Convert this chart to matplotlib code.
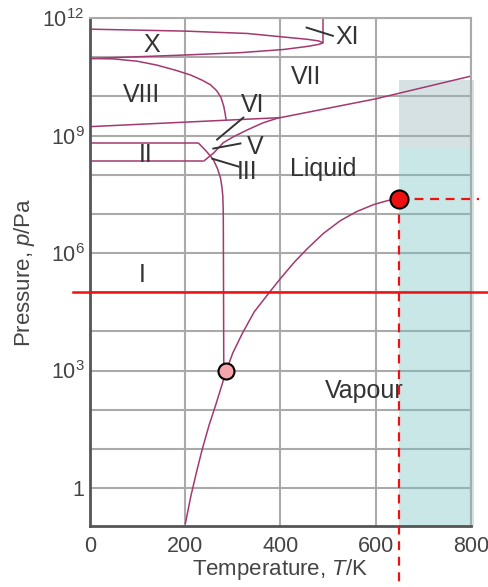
import numpy as np
import matplotlib
matplotlib.use("Agg")
import matplotlib.pyplot as plt

plt.rcParams['font.family'] = ['Liberation Sans', 'DejaVu Sans']
plt.rcParams['mathtext.fontset'] = 'custom'
plt.rcParams['mathtext.rm'] = 'Liberation Sans'
plt.rcParams['mathtext.it'] = 'Liberation Sans:italic'

# phase boundaries of water: (T / K, log10 p / Pa)
vap_T = [200, 212, 224, 236, 250, 263, 275, 286, 300, 320, 345, 377, 400,
         430, 457, 490, 526, 560, 596, 625, 650]
vap_logp = [-0.93, -0.2, 0.42, 1.0, 1.6, 2.08, 2.55, 2.99, 3.45, 3.95, 4.5,
            5.0, 5.35, 5.78, 6.12, 6.5, 6.83, 7.06, 7.24, 7.34, 7.40]

melt_T = [281, 280, 279, 277, 274, 268, 259, 243, 227]
melt_logp = [3.0, 7.0, 7.45, 7.7, 7.92, 8.15, 8.39, 8.62, 8.82]

ice_ii_low_T = [0, 238]
ice_ii_low_logp = [8.34, 8.34]
ice_ii_high_T = [0, 227]
ice_ii_high_logp = [8.82, 8.82]

liq_high_T = [238, 260, 280, 301, 331, 364, 400]
liq_high_logp = [8.34, 8.56, 8.82, 8.97, 9.15, 9.33, 9.47]

vii_T = [0, 400, 600, 800]
vii_logp = [9.23, 9.46, 9.94, 10.52]

viii_T = [0, 50, 100, 141, 180, 211, 235, 253, 266, 275, 281, 284, 286]
viii_logp = [10.97, 10.96, 10.90, 10.80, 10.67, 10.55, 10.42, 10.30, 10.15,
             9.98, 9.75, 9.55, 9.40]

x_upper_T = [0, 200, 330, 406, 457, 480, 490]
x_upper_logp = [11.72, 11.67, 11.61, 11.52, 11.46, 11.42, 11.37]
x_lower_T = [0, 200, 316, 406, 457, 480, 490]
x_lower_logp = [10.97, 11.06, 11.12, 11.20, 11.28, 11.33, 11.37]
xi_T = [490, 490]
xi_logp = [11.37, 12.0]

triple_T, triple_p = 286, 1e3
crit_T, crit_p = 650, 2.4e7
atm_p = 1e5
super_top_p = 5.2e8
grey_top_p = 2.6e10

phase_labels = [
    ("X", 130, 11.31), ("VIII", 109, 10.04), ("VII", 453, 10.5),
    ("VI", 341, 9.79), ("II", 116, 8.51), ("V", 348, 8.72),
    ("III", 330, 8.08), ("Liquid", 490, 8.16), ("I", 109, 5.43),
    ("Vapour", 577, 2.48), ("XI", 541, 11.52),
]
leaders = [
    ((455, 510), (11.76, 11.55)),
    ((267, 322), (8.90, 9.46)),
    ((259, 316), (8.67, 8.80)),
    ((257, 312), (8.41, 8.21)),
]

fig = plt.figure(figsize=(4.89, 5.87), dpi=100)
ax = fig.add_axes([0.184, 0.104, 0.779, 0.865])
ax.set_yscale('log')
ax.set_xlim(0, 800)
ax.set_ylim(10 ** -0.97, 1e12)

decades = 10.0 ** np.arange(0, 13)
ylabels = ['1' if k == 0 else (r'$10^{%d}$' % k if k % 3 == 0 else '') for k in range(13)]
ax.set_yticks(decades)
ax.set_yticklabels(ylabels)
ax.yaxis.set_minor_locator(matplotlib.ticker.NullLocator())
ax.set_xticks([0, 200, 400, 600, 800])
ax.tick_params(length=0, labelsize=15.5, colors='#444444', pad=4)
ax.tick_params(axis='x', pad=7)
ax.set_axisbelow(True)
ax.grid(True, color='#aaaaaa', lw=1.5)
for side in ['left', 'bottom']:
    ax.spines[side].set_color('#555555')
    ax.spines[side].set_linewidth(2)
for side in ['top', 'right']:
    ax.spines[side].set_color('#aaaaaa')
    ax.spines[side].set_linewidth(1.5)

ax.set_xlabel('Temperature, $\\it{T}$/K', fontsize=16, color='#444444', labelpad=0)
ax.set_ylabel('Pressure, $\\it{p}$/Pa', fontsize=16, color='#444444', labelpad=4)

# supercritical shading
y0 = ax.get_ylim()[0]
ax.fill_between([crit_T, 806], y0, super_top_p, color='#78c3c5', alpha=0.4,
                lw=0, clip_on=False, zorder=1)
ax.fill_between([crit_T, 806], super_top_p, grey_top_p, color='#96b6bb', alpha=0.4,
                lw=0, clip_on=False, zorder=1)

line_col = '#a2396f'
curves = [
    (vap_T, vap_logp), (melt_T, melt_logp), (ice_ii_low_T, ice_ii_low_logp),
    (ice_ii_high_T, ice_ii_high_logp), (liq_high_T, liq_high_logp),
    (vii_T, vii_logp), (viii_T, viii_logp), (x_upper_T, x_upper_logp),
    (x_lower_T, x_lower_logp), (xi_T, xi_logp),
]
for T, lp in curves:
    ax.plot(T, 10.0 ** np.array(lp), color=line_col, lw=1.1, zorder=2,
            solid_capstyle='butt', solid_joinstyle='round')

for (tx, ty) in leaders:
    ax.plot(tx, 10.0 ** np.array(ty), color='#333333', lw=1.4, zorder=2)

for text, tx, ty in phase_labels:
    ax.text(tx, 10 ** ty, text, fontsize=18, color='#333333',
            ha='center', va='center', zorder=3)

# 1 atm line and critical point guides
ax.plot([-36, 840], [atm_p, atm_p], color='#ee1111', lw=1.8, clip_on=False, zorder=3)
ax.plot([crit_T, 817], [crit_p, crit_p], color='#ee1111', lw=1.6,
        dashes=(4, 3), clip_on=False, zorder=3)
ax.plot([crit_T, crit_T], [crit_p, 10 ** -2.5], color='#ee1111', lw=1.6,
        dashes=(4, 3), clip_on=False, zorder=3)

ax.plot([triple_T], [triple_p], 'o', ms=11.5, mfc='#f4a6ac', mec='black',
        mew=1.5, zorder=4, clip_on=False)
ax.plot([crit_T], [crit_p], 'o', ms=13, mfc='#ee1111', mec='black',
        mew=1.5, zorder=4, clip_on=False)

fig.savefig('out.png', dpi=100)
